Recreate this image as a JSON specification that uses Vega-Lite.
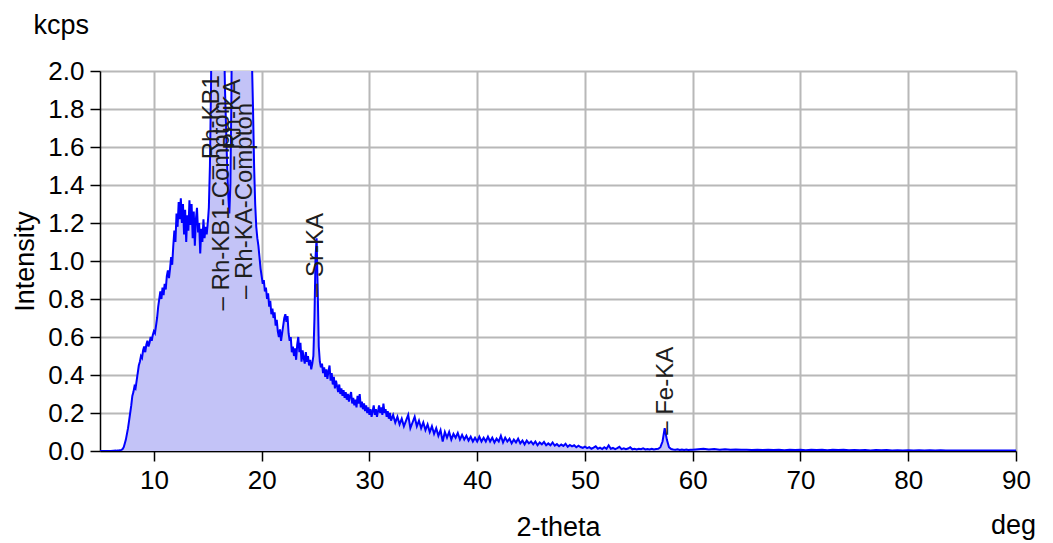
{
"$schema": "https://vega.github.io/schema/vega-lite/v6.json",
"width": 916, "height": 380,
"autosize": "none",
"padding": {"left": 100, "top": 71, "right": 37, "bottom": 92},
"background": "white",
"config": {"font": "Liberation Sans", "view": {"stroke": null}},
"datasets": {
"spec": [
{"x":5.0,"y":0.0},{"x":5.5,"y":0.0},{"x":6.0,"y":0.0},{"x":6.5,"y":0.002},{"x":6.8,"y":0.004},{"x":7.0,"y":0.006},
{"x":7.1,"y":0.01},{"x":7.2,"y":0.02},{"x":7.3,"y":0.04},{"x":7.4,"y":0.06},{"x":7.5,"y":0.09},{"x":7.6,"y":0.12},{"x":7.7,"y":0.16},{"x":7.8,"y":0.2},{"x":7.9,"y":0.24},{"x":8.0,"y":0.29},
{"x":8.1,"y":0.31},{"x":8.2,"y":0.34},{"x":8.3,"y":0.33},{"x":8.4,"y":0.37},{"x":8.5,"y":0.41},{"x":8.6,"y":0.45},{"x":8.7,"y":0.47},{"x":8.8,"y":0.5},{"x":8.9,"y":0.49},{"x":9.0,"y":0.53},
{"x":9.1,"y":0.55},{"x":9.2,"y":0.52},{"x":9.3,"y":0.56},{"x":9.4,"y":0.58},{"x":9.5,"y":0.55},{"x":9.6,"y":0.57},{"x":9.7,"y":0.6},{"x":9.8,"y":0.58},{"x":9.9,"y":0.61},{"x":10.0,"y":0.63},
{"x":10.1,"y":0.62},{"x":10.2,"y":0.66},{"x":10.3,"y":0.7},{"x":10.4,"y":0.76},{"x":10.5,"y":0.8},{"x":10.6,"y":0.84},{"x":10.7,"y":0.8},{"x":10.8,"y":0.86},{"x":10.9,"y":0.82},{"x":11.0,"y":0.88},
{"x":11.1,"y":0.85},{"x":11.2,"y":0.92},{"x":11.3,"y":0.95},{"x":11.4,"y":0.91},{"x":11.5,"y":0.96},{"x":11.6,"y":1.02},{"x":11.7,"y":0.98},{"x":11.8,"y":1.08},{"x":11.9,"y":1.16},{"x":12.0,"y":1.1},
{"x":12.1,"y":1.25},{"x":12.2,"y":1.18},{"x":12.3,"y":1.31},{"x":12.4,"y":1.22},{"x":12.5,"y":1.33},{"x":12.6,"y":1.2},{"x":12.7,"y":1.3},{"x":12.8,"y":1.14},{"x":12.9,"y":1.27},{"x":13.0,"y":1.1},
{"x":13.1,"y":1.24},{"x":13.2,"y":1.16},{"x":13.3,"y":1.32},{"x":13.4,"y":1.19},{"x":13.5,"y":1.3},{"x":13.6,"y":1.12},{"x":13.7,"y":1.26},{"x":13.8,"y":1.08},{"x":13.9,"y":1.22},{"x":14.0,"y":1.28},
{"x":14.1,"y":1.15},{"x":14.2,"y":1.2},{"x":14.3,"y":1.04},{"x":14.4,"y":1.17},{"x":14.5,"y":1.1},{"x":14.6,"y":1.22},{"x":14.7,"y":1.12},{"x":14.8,"y":1.18},{"x":14.9,"y":1.14},{"x":15.0,"y":1.2},
{"x":15.1,"y":1.28},{"x":15.2,"y":1.5},{"x":15.3,"y":1.9},{"x":15.4,"y":2.6},{"x":15.5,"y":3.4},{"x":15.6,"y":3.8},{"x":15.7,"y":3.0},{"x":15.8,"y":2.4},{"x":15.9,"y":2.1},{"x":16.0,"y":2.3},
{"x":16.1,"y":2.5},{"x":16.2,"y":2.8},{"x":16.3,"y":2.6},{"x":16.4,"y":2.4},{"x":16.5,"y":2.2},{"x":16.6,"y":1.9},{"x":16.7,"y":1.7},{"x":16.8,"y":1.5},{"x":16.9,"y":1.35},{"x":17.0,"y":1.25},
{"x":17.1,"y":1.4},{"x":17.2,"y":1.9},{"x":17.3,"y":3.0},{"x":17.4,"y":4.5},{"x":17.5,"y":6.0},{"x":17.6,"y":5.2},{"x":17.7,"y":3.8},{"x":17.8,"y":3.0},{"x":17.9,"y":2.8},{"x":18.0,"y":3.0},
{"x":18.1,"y":3.3},{"x":18.2,"y":3.5},{"x":18.3,"y":3.6},{"x":18.4,"y":3.4},{"x":18.5,"y":3.2},{"x":18.6,"y":3.0},{"x":18.7,"y":2.8},{"x":18.8,"y":2.6},{"x":18.9,"y":2.4},{"x":19.0,"y":2.2},
{"x":19.1,"y":2.05},{"x":19.2,"y":1.8},{"x":19.3,"y":1.5},{"x":19.4,"y":1.3},{"x":19.5,"y":1.18},{"x":19.6,"y":1.12},{"x":19.7,"y":1.08},{"x":19.8,"y":1.02},{"x":19.9,"y":0.96},{"x":20.0,"y":0.92},
{"x":20.1,"y":0.88},{"x":20.2,"y":0.9},{"x":20.3,"y":0.84},{"x":20.4,"y":0.86},{"x":20.5,"y":0.8},{"x":20.6,"y":0.83},{"x":20.7,"y":0.76},{"x":20.8,"y":0.79},{"x":20.9,"y":0.72},{"x":21.0,"y":0.75},
{"x":21.1,"y":0.7},{"x":21.2,"y":0.73},{"x":21.3,"y":0.66},{"x":21.4,"y":0.69},{"x":21.5,"y":0.63},{"x":21.6,"y":0.6},{"x":21.7,"y":0.64},{"x":21.8,"y":0.58},{"x":21.9,"y":0.62},{"x":22.0,"y":0.66},
{"x":22.1,"y":0.7},{"x":22.2,"y":0.72},{"x":22.3,"y":0.68},{"x":22.4,"y":0.71},{"x":22.5,"y":0.62},{"x":22.6,"y":0.58},{"x":22.7,"y":0.6},{"x":22.8,"y":0.52},{"x":22.9,"y":0.55},{"x":23.0,"y":0.5},
{"x":23.1,"y":0.54},{"x":23.2,"y":0.48},{"x":23.3,"y":0.56},{"x":23.4,"y":0.6},{"x":23.5,"y":0.52},{"x":23.6,"y":0.57},{"x":23.7,"y":0.47},{"x":23.8,"y":0.53},{"x":23.9,"y":0.49},{"x":24.0,"y":0.46},
{"x":24.1,"y":0.52},{"x":24.2,"y":0.47},{"x":24.3,"y":0.5},{"x":24.4,"y":0.45},{"x":24.5,"y":0.48},{"x":24.6,"y":0.43},{"x":24.7,"y":0.46},{"x":24.8,"y":0.5},{"x":24.9,"y":0.7},{"x":25.0,"y":1.02},
{"x":25.1,"y":1.12},{"x":25.2,"y":0.85},{"x":25.3,"y":0.55},{"x":25.4,"y":0.47},{"x":25.5,"y":0.44},{"x":25.6,"y":0.46},{"x":25.7,"y":0.41},{"x":25.8,"y":0.44},{"x":25.9,"y":0.39},{"x":26.0,"y":0.43},
{"x":26.1,"y":0.38},{"x":26.2,"y":0.42},{"x":26.3,"y":0.45},{"x":26.4,"y":0.37},{"x":26.5,"y":0.41},{"x":26.6,"y":0.35},{"x":26.7,"y":0.39},{"x":26.8,"y":0.33},{"x":26.9,"y":0.37},{"x":27.0,"y":0.34},
{"x":27.1,"y":0.31},{"x":27.2,"y":0.35},{"x":27.3,"y":0.3},{"x":27.4,"y":0.33},{"x":27.5,"y":0.29},{"x":27.6,"y":0.32},{"x":27.7,"y":0.28},{"x":27.8,"y":0.31},{"x":27.9,"y":0.27},{"x":28.0,"y":0.3},
{"x":28.1,"y":0.26},{"x":28.2,"y":0.29},{"x":28.3,"y":0.31},{"x":28.4,"y":0.25},{"x":28.5,"y":0.28},{"x":28.6,"y":0.24},{"x":28.7,"y":0.27},{"x":28.8,"y":0.23},{"x":28.9,"y":0.29},{"x":29.0,"y":0.25},
{"x":29.1,"y":0.3},{"x":29.2,"y":0.23},{"x":29.3,"y":0.26},{"x":29.4,"y":0.22},{"x":29.5,"y":0.25},{"x":29.6,"y":0.21},{"x":29.7,"y":0.24},{"x":29.8,"y":0.2},{"x":29.9,"y":0.23},{"x":30.0,"y":0.19},
{"x":30.1,"y":0.22},{"x":30.2,"y":0.18},{"x":30.3,"y":0.21},{"x":30.4,"y":0.24},{"x":30.5,"y":0.19},{"x":30.6,"y":0.22},{"x":30.7,"y":0.18},{"x":30.8,"y":0.21},{"x":30.9,"y":0.24},{"x":31.0,"y":0.2},
{"x":31.1,"y":0.23},{"x":31.2,"y":0.19},{"x":31.3,"y":0.25},{"x":31.4,"y":0.2},{"x":31.5,"y":0.22},{"x":31.6,"y":0.18},{"x":31.7,"y":0.21},{"x":31.8,"y":0.17},{"x":31.9,"y":0.2},{"x":32.0,"y":0.16},
{"x":32.2,"y":0.19},{"x":32.4,"y":0.15},{"x":32.6,"y":0.18},{"x":32.8,"y":0.14},{"x":33.0,"y":0.17},{"x":33.2,"y":0.13},{"x":33.4,"y":0.16},{"x":33.6,"y":0.19},{"x":33.8,"y":0.12},{"x":34.0,"y":0.15},
{"x":34.2,"y":0.18},{"x":34.4,"y":0.13},{"x":34.6,"y":0.16},{"x":34.8,"y":0.12},{"x":35.0,"y":0.15},{"x":35.2,"y":0.11},{"x":35.4,"y":0.14},{"x":35.6,"y":0.1},{"x":35.8,"y":0.13},{"x":36.0,"y":0.09},
{"x":36.2,"y":0.12},{"x":36.4,"y":0.08},{"x":36.6,"y":0.11},{"x":36.8,"y":0.05},{"x":37.0,"y":0.1},{"x":37.2,"y":0.07},{"x":37.4,"y":0.1},{"x":37.6,"y":0.06},{"x":37.8,"y":0.09},{"x":38.0,"y":0.07},
{"x":38.2,"y":0.095},{"x":38.4,"y":0.06},{"x":38.6,"y":0.085},{"x":38.8,"y":0.06},{"x":39.0,"y":0.08},{"x":39.2,"y":0.055},{"x":39.4,"y":0.075},{"x":39.6,"y":0.05},{"x":39.8,"y":0.07},{"x":40.0,"y":0.05},
{"x":40.2,"y":0.075},{"x":40.4,"y":0.05},{"x":40.6,"y":0.07},{"x":40.8,"y":0.05},{"x":41.0,"y":0.075},{"x":41.2,"y":0.05},{"x":41.4,"y":0.07},{"x":41.6,"y":0.045},{"x":41.8,"y":0.065},{"x":42.0,"y":0.05},
{"x":42.2,"y":0.08},{"x":42.4,"y":0.045},{"x":42.6,"y":0.07},{"x":42.8,"y":0.05},{"x":43.0,"y":0.065},{"x":43.2,"y":0.04},{"x":43.4,"y":0.06},{"x":43.6,"y":0.045},{"x":43.8,"y":0.065},{"x":44.0,"y":0.04},
{"x":44.2,"y":0.055},{"x":44.4,"y":0.035},{"x":44.6,"y":0.055},{"x":44.8,"y":0.04},{"x":45.0,"y":0.05},{"x":45.2,"y":0.035},{"x":45.4,"y":0.05},{"x":45.6,"y":0.03},{"x":45.8,"y":0.045},{"x":46.0,"y":0.035},
{"x":46.2,"y":0.048},{"x":46.4,"y":0.03},{"x":46.6,"y":0.04},{"x":46.8,"y":0.03},{"x":47.0,"y":0.045},{"x":47.2,"y":0.028},{"x":47.4,"y":0.036},{"x":47.6,"y":0.025},{"x":47.8,"y":0.034},{"x":48.0,"y":0.027},
{"x":48.2,"y":0.038},{"x":48.4,"y":0.022},{"x":48.6,"y":0.032},{"x":48.8,"y":0.024},{"x":49.0,"y":0.03},{"x":49.2,"y":0.02},{"x":49.4,"y":0.028},{"x":49.6,"y":0.021},{"x":49.8,"y":0.016},{"x":50.0,"y":0.023},
{"x":50.2,"y":0.015},{"x":50.4,"y":0.02},{"x":50.6,"y":0.012},{"x":50.8,"y":0.018},{"x":51.0,"y":0.025},{"x":51.2,"y":0.012},{"x":51.4,"y":0.018},{"x":51.6,"y":0.01},{"x":51.8,"y":0.02},{"x":52.0,"y":0.012},
{"x":52.2,"y":0.03},{"x":52.4,"y":0.012},{"x":52.6,"y":0.016},{"x":52.8,"y":0.01},{"x":53.0,"y":0.015},{"x":53.2,"y":0.022},{"x":53.4,"y":0.01},{"x":53.6,"y":0.014},{"x":53.8,"y":0.009},{"x":54.0,"y":0.013},
{"x":54.2,"y":0.02},{"x":54.4,"y":0.009},{"x":54.6,"y":0.012},{"x":54.8,"y":0.008},{"x":55.0,"y":0.012},{"x":55.2,"y":0.009},{"x":55.4,"y":0.014},{"x":55.6,"y":0.008},{"x":55.8,"y":0.011},{"x":56.0,"y":0.008},
{"x":56.2,"y":0.012},{"x":56.4,"y":0.008},{"x":56.6,"y":0.01},{"x":56.8,"y":0.012},{"x":57.0,"y":0.02},{"x":57.2,"y":0.05},{"x":57.4,"y":0.12},{"x":57.6,"y":0.06},{"x":57.8,"y":0.02},{"x":58.0,"y":0.01},
{"x":58.2,"y":0.008},{"x":58.4,"y":0.007},{"x":58.6,"y":0.009},{"x":58.8,"y":0.006},{"x":59.0,"y":0.008},{"x":59.2,"y":0.006},{"x":59.4,"y":0.008},{"x":59.6,"y":0.005},{"x":59.8,"y":0.007},{"x":60.0,"y":0.006},
{"x":60.5,"y":0.009},{"x":61.0,"y":0.012},{"x":61.5,"y":0.008},{"x":62.0,"y":0.01},{"x":62.5,"y":0.007},{"x":63.0,"y":0.009},{"x":63.5,"y":0.006},{"x":64.0,"y":0.008},{"x":64.5,"y":0.006},{"x":65.0,"y":0.007},
{"x":65.5,"y":0.005},{"x":66.0,"y":0.007},{"x":66.5,"y":0.005},{"x":67.0,"y":0.006},{"x":67.5,"y":0.005},{"x":68.0,"y":0.007},{"x":68.5,"y":0.004},{"x":69.0,"y":0.006},{"x":69.5,"y":0.005},{"x":70.0,"y":0.006},
{"x":70.5,"y":0.004},{"x":71.0,"y":0.007},{"x":71.5,"y":0.005},{"x":72.0,"y":0.006},{"x":72.5,"y":0.004},{"x":73.0,"y":0.006},{"x":73.5,"y":0.005},{"x":74.0,"y":0.006},{"x":74.5,"y":0.004},{"x":75.0,"y":0.005},
{"x":75.5,"y":0.004},{"x":76.0,"y":0.005},{"x":76.5,"y":0.003},{"x":77.0,"y":0.005},{"x":77.5,"y":0.004},{"x":78.0,"y":0.005},{"x":78.5,"y":0.003},{"x":79.0,"y":0.004},{"x":79.5,"y":0.003},{"x":80.0,"y":0.004},
{"x":80.5,"y":0.003},{"x":81.0,"y":0.004},{"x":81.5,"y":0.003},{"x":82.0,"y":0.004},{"x":82.5,"y":0.003},{"x":83.0,"y":0.004},{"x":83.5,"y":0.003},{"x":84.0,"y":0.003},{"x":84.5,"y":0.002},{"x":85.0,"y":0.003},
{"x":85.5,"y":0.002},{"x":86.0,"y":0.003},{"x":86.5,"y":0.002},{"x":87.0,"y":0.003},{"x":87.5,"y":0.002},{"x":88.0,"y":0.003},{"x":88.5,"y":0.002},{"x":89.0,"y":0.003},{"x":89.5,"y":0.002},{"x":90.0,"y":0.002}
],
"labels": [
{"x":15.4,"y":1.43,"t":"– Rh-KB1"},
{"x":16.3,"y":0.74,"t":"– Rh-KB1-Compton"},
{"x":17.35,"y":1.48,"t":"– Rh-KA"},
{"x":18.45,"y":0.8,"t":"– Rh-KA-Compton"},
{"x":25.0,"y":0.81,"t":"– Sr-KA"},
{"x":57.5,"y":0.085,"t":"– Fe-KA"}
]
},
"resolve": {"axis": {"x": "independent", "y": "independent"}},
"layer": [
{
"data": {"name": "spec"},
"mark": {"type": "area", "clip": true, "color": "#c3c3f7", "opacity": 1},
"encoding": {
"x": {"field": "x", "type": "quantitative", "scale": {"domain": [5, 90], "nice": false, "zero": false},
"axis": {"orient": "bottom", "values": [10,20,30,40,50,60,70,80,90], "title": "2-theta", "titleFontSize": 27, "titleFontWeight": "normal", "titleColor": "black", "titleX": 458, "titleY": 84, "titleBaseline": "alphabetic", "labelFontSize": 26, "labelColor": "black", "labelPadding": 6, "tickSize": 10, "tickColor": "black", "tickWidth": 1.5, "domainColor": "black", "domainWidth": 1.5, "grid": true, "gridColor": "#b8b8b8", "gridWidth": 2, "labelFlush": false}},
"y": {"field": "y", "type": "quantitative", "scale": {"domain": [0, 2], "nice": false},
"axis": {"orient": "left", "values": [0,0.2,0.4,0.6,0.8,1.0,1.2,1.4,1.6,1.8,2.0], "format": ".1f", "title": "Intensity", "titleFontSize": 27, "titleFontWeight": "normal", "titleColor": "black", "titleX": -67, "titleY": 190, "titleAngle": -90, "titleBaseline": "alphabetic", "titleAlign": "center", "labelFontSize": 26, "labelColor": "black", "labelPadding": 6, "tickSize": 10, "tickColor": "black", "tickWidth": 1.5, "domainColor": "black", "domainWidth": 1.5, "grid": true, "gridColor": "#b8b8b8", "gridWidth": 2, "labelFlush": false}}
}
},
{
"data": {"name": "spec"},
"mark": {"type": "line", "clip": true, "color": "#0000ff", "strokeWidth": 2},
"encoding": {
"x": {"field": "x", "type": "quantitative", "axis": null},
"y": {"field": "y", "type": "quantitative", "axis": null}
}
},
{
"data": {"name": "labels"},
"mark": {"type": "text", "angle": -90, "align": "left", "baseline": "middle", "fontSize": 24, "color": "#1e1e1e"},
"encoding": {
"x": {"field": "x", "type": "quantitative", "axis": {"orient": "bottom", "title": "deg", "titleFontSize": 27, "titleFontWeight": "normal", "titleColor": "black", "titleX": 913, "titleY": 82, "titleAlign": "center", "titleBaseline": "alphabetic", "labels": false, "ticks": false, "domain": false, "grid": false}},
"y": {"field": "y", "type": "quantitative", "axis": {"orient": "left", "title": "kcps", "titleFontSize": 27, "titleFontWeight": "normal", "titleColor": "black", "titleX": -67, "titleY": -38, "titleAngle": 0, "titleAlign": "left", "titleBaseline": "alphabetic", "labels": false, "ticks": false, "domain": false, "grid": false}},
"text": {"field": "t"}
}
}
]
}
